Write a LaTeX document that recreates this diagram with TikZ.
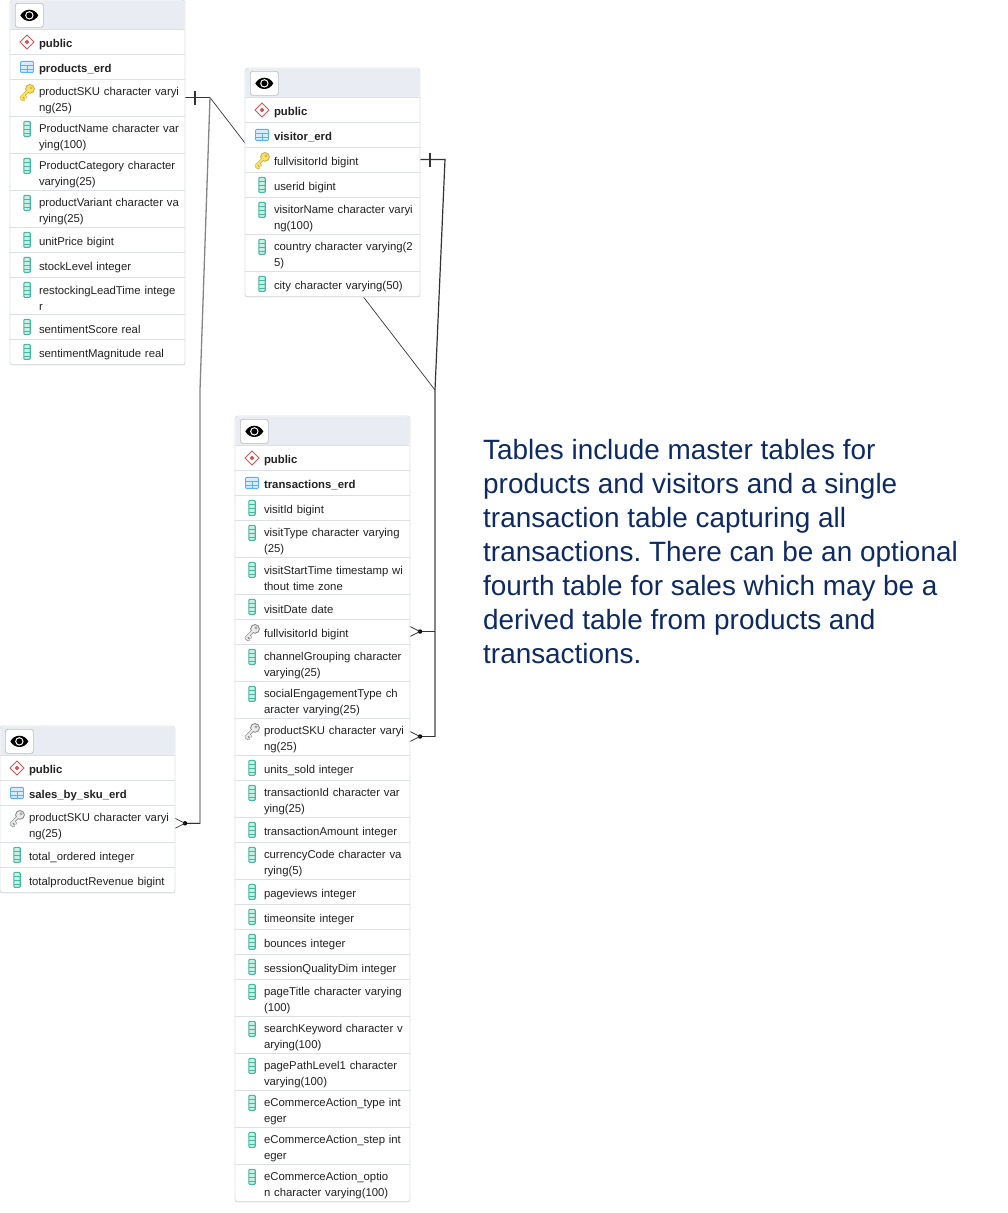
\documentclass[tikz,border=0pt]{standalone}
\usepackage{fontspec}
\setmainfont{Liberation Sans}
\usetikzlibrary{calc,backgrounds}
\definecolor{edge}{HTML}{DDE0E8}
\definecolor{headfill}{HTML}{E9ECF2}
\definecolor{navy}{HTML}{0E2A62}
\definecolor{inkdark}{HTML}{222222}
\definecolor{conn}{HTML}{333333}
\definecolor{tealedge}{HTML}{45B8A0}
\definecolor{tealfill}{HTML}{C9EFE5}
\definecolor{blueedge}{HTML}{5BB0EE}
\definecolor{bluefill}{HTML}{D6ECFB}
\definecolor{rededge}{HTML}{D2555A}
\definecolor{goldfill}{HTML}{F7E36A}
\definecolor{goldedge}{HTML}{CFA92A}
\newcount\erdy
\tikzset{
  x=1pt,y=-1pt,
  tablebox/.style={draw=edge,line width=0.9pt,fill=white,rounded corners=3pt,minimum width=175pt,inner sep=0pt,outer sep=0pt},
  eyebtn/.style={draw=edge!85!black,line width=0.7pt,fill=white,rounded corners=2.5pt,minimum width=28pt,minimum height=24pt,inner sep=0pt},
  rowtext/.style={inner sep=0pt,outer sep=0pt,text width=146pt,align=left,text=inkdark,font=\fontsize{11.35}{16}\selectfont},
  boldrow/.style={rowtext,font=\fontsize{11.35}{16}\selectfont\bfseries},
  rowline/.style={draw=edge,line width=0.8pt},
  connline/.style={draw=conn,line width=1.2pt},
  thinconn/.style={draw=conn,line width=0.7pt},
  barline/.style={draw=conn,line width=1.5pt},
  notetext/.style={inner sep=0pt,align=left,text=navy,font=\fontsize{27.9}{34}\selectfont},
  pics/eye/.style={code={
    \fill[black] (-9,0) .. controls (-5,-7.5) and (5,-7.5) .. (9,0) .. controls (5,7.5) and (-5,7.5) .. (-9,0) -- cycle;
    \fill[white] (0,0) circle (4.2);
    \fill[black] (0,0) circle (3);
  }},
  pics/schemaicon/.style={code={
    \draw[draw=rededge,line width=0.9pt,fill=white] (-7,0) -- (0,-7) -- (7,0) -- (0,7) -- cycle;
    \fill[rededge] (-2.4,0) -- (0,-2.4) -- (2.4,0) -- (0,2.4) -- cycle;
  }},
  pics/tableicon/.style={code={
    \fill[bluefill] (-6.5,-5.5) rectangle (6.5,5.5);
    \draw[draw=blueedge,line width=0.9pt,rounded corners=1pt] (-6.5,-5.5) rectangle (6.5,5.5);
    \draw[draw=blueedge,line width=0.7pt] (-6.5,-1.5) -- (6.5,-1.5) (0,-1.5) -- (0,5.5) (-6.5,2) -- (6.5,2);
  }},
  pics/colicon/.style={code={
    \draw[draw=tealedge,fill=tealfill,line width=1.1pt,rounded corners=1pt] (-3.2,-7.5) rectangle (3.2,7.5);
    \draw[draw=tealedge,line width=0.6pt] (-3.2,-4) -- (3.2,-4) (-3.2,0) -- (3.2,0) (-3.2,4) -- (3.2,4);
  }},
  pics/keybase/.style 2 args={code={
    \draw[draw=#2,line width=3pt,line cap=round] (-6,6) -- (1.5,-1.5) (-6,6) -- (-3.5,8) (-3.5,3.5) -- (-1.5,5.5);
    \draw[draw=#2,fill=#1,line width=0.8pt] (3,-3) circle (4.4);
    \draw[draw=#1,line width=1.7pt,line cap=round] (-6,6) -- (1.5,-1.5) (-6,6) -- (-3.5,8) (-3.5,3.5) -- (-1.5,5.5);
    \draw[draw=#2,fill=white,line width=0.5pt] (4,-4) circle (1.2);
  }},
  pics/keygold/.style={code={\pic {keybase={goldfill}{goldedge}};}},
  pics/keygray/.style={code={\pic {keybase={black!8}{black!50}};}},
}
% table: name, x, y, height
\newcommand{\etable}[4]{%
  \gdef\ex{#2}\global\erdy=#3\relax
  \node[tablebox,minimum height=#4pt,anchor=north west] (#1) at (#2,#3) {};
  \fill[headfill,rounded corners=3pt] (#2+0.5,#3+29.4) -- (#2+0.5,#3+0.5) -- (#2+174.5,#3+0.5) -- (#2+174.5,#3+29.4) -- cycle;
  \draw[rowline] (#2,#3+29.4) -- (#2+175,#3+29.4);
  \node[eyebtn,anchor=north west] (#1-eye) at (#2+5,#3+3) {};
  \pic at (#1-eye.center) {eye};
  \global\advance\erdy by 30\relax
}
% row: name, icon pic, height, text style, text
\newcommand{\erow}[5]{%
  \node[#4,anchor=west] (#1) at ({\ex+29},{\the\erdy+#3/2+1.6}) {#5};
  \pic at ({\ex+17},{\the\erdy+11.9}) {#2};
  \global\advance\erdy by #3\relax
  \draw[rowline] (\ex,\the\erdy-0.6) -- ({\ex+175},\the\erdy-0.6);
}
\newcommand{\ecol}[2]{\erow{#1}{colicon}{25}{rowtext}{#2}}
\newcommand{\ecolw}[2]{\erow{#1}{colicon}{37}{rowtext}{#2}}
\begin{document}
\frenchspacing
\begin{tikzpicture}
\useasboundingbox (0,0) rectangle (1008,1213);

% products
\etable{products}{10}{0}{365}
\erow{products-schema}{schemaicon}{25}{boldrow}{public}
\erow{products-name}{tableicon}{25}{boldrow}{products\_erd}
\erow{products-sku}{keygold}{37}{rowtext}{productSKU character varyi\\ng(25)}
\ecolw{products-pname}{ProductName character var\\ying(100)}
\ecolw{products-pcat}{ProductCategory character\\varying(25)}
\ecolw{products-pvar}{productVariant character va\\rying(25)}
\ecol{products-price}{unitPrice bigint}
\ecol{products-stock}{stockLevel integer}
\ecolw{products-lead}{restockingLeadTime intege\\r}
\ecol{products-sscore}{sentimentScore real}
\ecol{products-smag}{sentimentMagnitude real}

% visitor
\etable{visitor}{245}{68}{229}
\erow{visitor-schema}{schemaicon}{25}{boldrow}{public}
\erow{visitor-name}{tableicon}{25}{boldrow}{visitor\_erd}
\erow{visitor-id}{keygold}{25}{rowtext}{fullvisitorId bigint}
\ecol{visitor-user}{userid bigint}
\ecolw{visitor-vname}{visitorName character varyi\\ng(100)}
\ecolw{visitor-country}{country character varying(2\\5)}
\ecol{visitor-city}{city character varying(50)}

% transactions
\etable{trans}{235}{416}{786}
\erow{trans-schema}{schemaicon}{25}{boldrow}{public}
\erow{trans-name}{tableicon}{25}{boldrow}{transactions\_erd}
\ecol{trans-visit}{visitId bigint}
\ecolw{trans-vtype}{visitType character varying\\(25)}
\ecolw{trans-vstart}{visitStartTime timestamp wi\\thout time zone}
\ecol{trans-vdate}{visitDate date}
\erow{trans-full}{keygray}{25}{rowtext}{fullvisitorId bigint}
\ecolw{trans-chan}{channelGrouping character\\varying(25)}
\ecolw{trans-social}{socialEngagementType ch\\aracter varying(25)}
\erow{trans-sku}{keygray}{37}{rowtext}{productSKU character varyi\\ng(25)}
\ecol{trans-units}{units\_sold integer}
\ecolw{trans-tid}{transactionId character var\\ying(25)}
\ecol{trans-amount}{transactionAmount integer}
\ecolw{trans-curr}{currencyCode character va\\rying(5)}
\ecol{trans-pv}{pageviews integer}
\ecol{trans-tos}{timeonsite integer}
\ecol{trans-bounce}{bounces integer}
\ecol{trans-sq}{sessionQualityDim integer}
\ecolw{trans-ptitle}{pageTitle character varying\\(100)}
\ecolw{trans-search}{searchKeyword character v\\arying(100)}
\ecolw{trans-path}{pagePathLevel1 character\\varying(100)}
\ecolw{trans-etype}{eCommerceAction\_type int\\eger}
\ecolw{trans-estep}{eCommerceAction\_step int\\eger}
\ecolw{trans-eopt}{eCommerceAction\_optio\\n character varying(100)}

% sales
\etable{sales}{0}{726}{167}
\erow{sales-schema}{schemaicon}{25}{boldrow}{public}
\erow{sales-name}{tableicon}{25}{boldrow}{sales\_by\_sku\_erd}
\erow{sales-sku}{keygray}{37}{rowtext}{productSKU character varyi\\ng(25)}
\ecol{sales-ordered}{total\_ordered integer}
\ecol{sales-rev}{totalproductRevenue bigint}

% note
\node[notetext,anchor=north west] (note) at (483,439.5) {Tables include master tables for\\products and visitors and a single\\transaction table capturing all\\transactions. There can be an optional\\fourth table for sales which may be a\\derived table from products and\\transactions.};

% connectors
\begin{scope}[on background layer]
  \coordinate (pstart) at ($(products-sku.east)+(0,-2.6)$);
  \coordinate (pbar) at ($(pstart)+(10,0)$);
  \coordinate (pjoin) at ($(pstart)+(25,0)$);
  \coordinate (vstart) at ($(visitor-id.east)+(0,-2.6)$);
  \coordinate (vbar) at ($(vstart)+(10,0)$);
  \coordinate (vjoin) at ($(vstart)+(25,0)$);
  \coordinate (rightmid) at (435,390);
  \coordinate (leftmid) at (200,390);
  \coordinate (tfstart) at ($(trans-full.east)+(0,-2.6)$);
  \coordinate (tfdot) at ($(tfstart)+(10,0)$);
  \coordinate (tsstart) at ($(trans-sku.east)+(0,-2.6)$);
  \coordinate (tsdot) at ($(tsstart)+(10,0)$);
  \coordinate (sstart) at ($(sales-sku.east)+(0,-2.8)$);
  \coordinate (sdot) at ($(sstart)+(10,0)$);

  \draw[barline] (pstart) -- (pjoin);
  \draw[barline,line width=1.2pt] ($(pbar)+(0,-7)$) -- ($(pbar)+(0,7)$);
  \draw[thinconn] (pjoin) -- (rightmid);
  \draw[connline,draw=conn!60!white,line width=1.3pt] (pjoin) -- (leftmid) -- (leftmid |- sstart) -- (sdot);

  \draw[connline] (vstart) -- (vjoin) -- (rightmid);
  \draw[connline] ($(vbar)+(0,-7)$) -- ($(vbar)+(0,7)$);
  \draw[connline,draw=conn!60!white,line width=1.3pt] (rightmid) -- (rightmid |- tsstart);
  \draw[connline] (tfdot) -- (tfdot -| rightmid);
  \draw[connline] (tsdot) -- (tsdot -| rightmid);
  \draw[connline] (sdot) -- (sdot -| leftmid);

  \foreach \dotc/\startc in {tfdot/tfstart,tsdot/tsstart,sdot/sstart}{
    \fill[black] (\dotc) circle (2.2);
    \draw[thinconn] ($(\startc)+(0,-5)$) -- (\dotc) -- ($(\startc)+(0,5)$);
  }
\end{scope}
\end{tikzpicture}
\end{document}
